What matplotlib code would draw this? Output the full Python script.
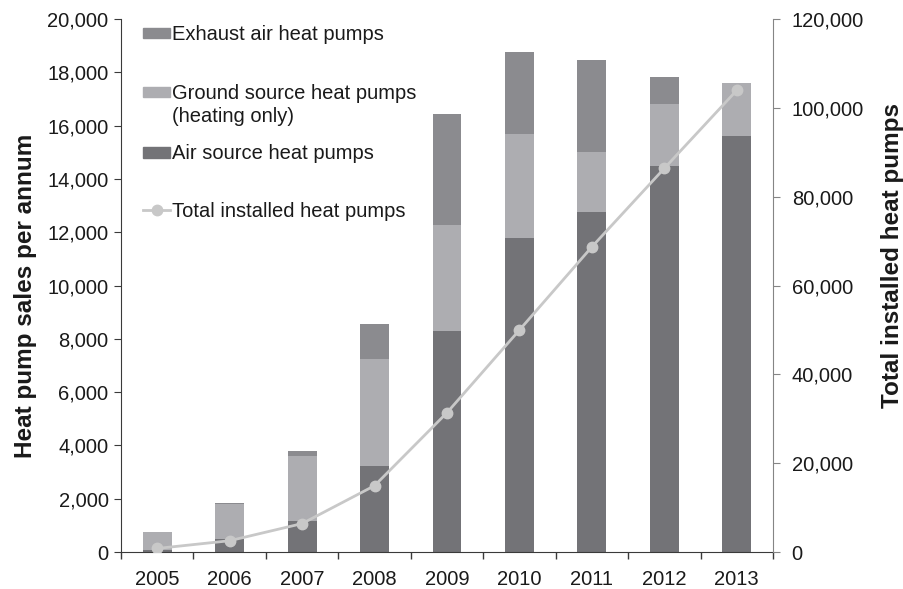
import matplotlib.pyplot as plt
from matplotlib.patches import Rectangle
from matplotlib.lines import Line2D
from matplotlib.ticker import FuncFormatter, FixedLocator
import numpy as np

plt.rcParams["font.family"] = ["Liberation Sans", "DejaVu Sans"]

years = ["2005", "2006", "2007", "2008", "2009", "2010", "2011", "2012", "2013"]
air_source = [80, 490, 1180, 3240, 8290, 11790, 12750, 14500, 15620]
ground_source = [660, 1300, 2420, 4000, 3980, 3900, 2250, 2300, 1980]
exhaust_air = [0, 60, 180, 1300, 4160, 3070, 3460, 1040, 0]
total_installed = [800, 2540, 6400, 14930, 31370, 49980, 68700, 86380, 103950]

c_air = "#737377"
c_ground = "#adadb1"
c_exhaust = "#8b8b8f"
c_line = "#c8c8c8"
c_axis = "#3a3a3a"
c_axis2 = "#858585"
fs = 14.5

fig = plt.figure(figsize=(9.04, 5.89), dpi=100)
ax = fig.add_axes([121 / 904, 37 / 589, 652 / 904, 533 / 589])
ax2 = ax.twinx()

x = np.arange(len(years))
air = np.array(air_source)
gnd = np.array(ground_source)
exh = np.array(exhaust_air)

ax.bar(x, air, width=0.4, color=c_air, zorder=2)
ax.bar(x, gnd, width=0.4, bottom=air, color=c_ground, zorder=2)
ax.bar(x, exh, width=0.4, bottom=air + gnd, color=c_exhaust, zorder=2)

ax2.plot(x, total_installed, color=c_line, lw=2.0, marker="o", ms=7.5, zorder=3)

ax.set_xlim(-0.5, len(years) - 0.5)
ax.set_ylim(0, 20000)
ax2.set_ylim(0, 120000)
ax.set_yticks(np.arange(0, 20001, 2000))
ax2.set_yticks(np.arange(0, 120001, 20000))
fmt = FuncFormatter(lambda v, p: f"{int(v):,}")
ax.yaxis.set_major_formatter(fmt)
ax2.yaxis.set_major_formatter(fmt)

ax.set_xticks(x)
ax.set_xticklabels(years)
ax.xaxis.set_minor_locator(FixedLocator(np.arange(-0.5, len(years), 1)))
ax.tick_params(axis="x", which="major", length=0, labelsize=fs, pad=13,
               labelcolor="#1a1a1a")
ax.tick_params(axis="x", which="minor", length=5, color=c_axis, width=1)
ax.tick_params(axis="y", length=5, color=c_axis, labelsize=fs, pad=4,
               labelcolor="#1a1a1a")
ax2.tick_params(axis="y", length=5, color=c_axis2, labelsize=fs, pad=8.5,
                labelcolor="#1a1a1a")

for a in (ax, ax2):
    a.spines["top"].set_visible(False)
    for s in ("left", "bottom"):
        a.spines[s].set_color(c_axis)
    a.spines["right"].set_color(c_axis2)
ax.spines["right"].set_visible(False)
ax2.spines["left"].set_visible(False)
ax2.spines["bottom"].set_visible(False)
ax.set_zorder(ax2.get_zorder() - 1)
ax2.patch.set_visible(False)
ax.patch.set_visible(False)

ax.set_ylabel("Heat pump sales per annum", fontsize=17.5, fontweight="bold",
              color="#1a1a1a")
ax2.set_ylabel("Total installed heat pumps", fontsize=17.5, fontweight="bold",
               color="#1a1a1a")
ax.yaxis.set_label_coords(-0.129, 0.48)
ax2.yaxis.set_label_coords(1.1656, 0.557)

# manual legend (Excel style, uneven spacing)
legend_items = [
    ("patch", c_exhaust, "Exhaust air heat pumps", 0.974),
    ("patch", c_ground, "Ground source heat pumps\n(heating only)", 0.863),
    ("patch", c_air, "Air source heat pumps", 0.750),
    ("line", c_line, "Total installed heat pumps", 0.642),
]
for kind, col, label, yy in legend_items:
    if kind == "patch":
        ax.add_patch(Rectangle((0.034, yy - 0.01), 0.041, 0.02, color=col,
                               transform=ax.transAxes, clip_on=False, zorder=5))
    else:
        ax.add_line(Line2D([0.034, 0.075], [yy, yy], color=col, lw=2.0,
                           transform=ax.transAxes, zorder=5))
        ax.add_line(Line2D([0.0545], [yy], color=col, marker="o", ms=7.5,
                           transform=ax.transAxes, zorder=5))
    if "\n" in label:
        ax.text(0.078, yy + 0.0145, label, transform=ax.transAxes, fontsize=fs,
                va="top", ha="left", color="#1a1a1a", linespacing=1.22)
    else:
        ax.text(0.078, yy - 0.003, label, transform=ax.transAxes, fontsize=fs,
                va="center", ha="left", color="#1a1a1a")

fig.savefig("out.png", dpi=100)
